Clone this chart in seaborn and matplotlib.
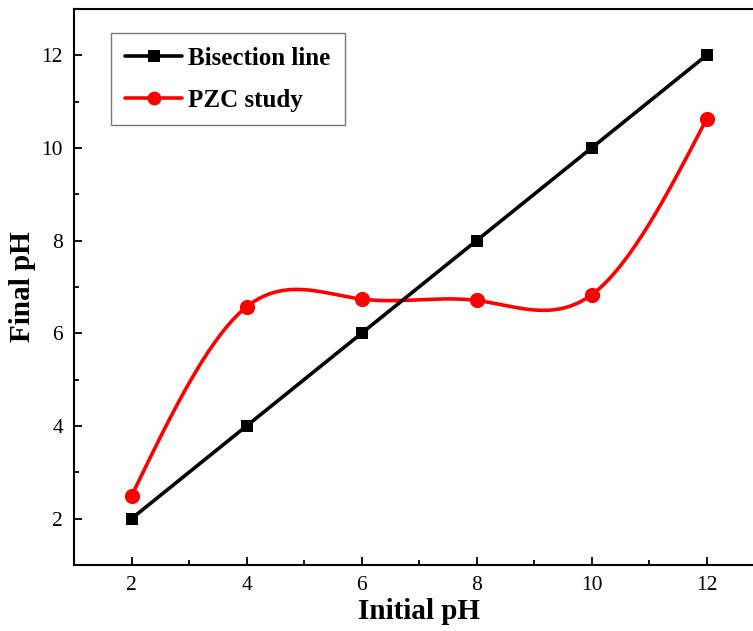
import numpy as np
import pandas as pd
import matplotlib
matplotlib.use("Agg")
import matplotlib.pyplot as plt
import seaborn as sns
from matplotlib.ticker import MultipleLocator
from matplotlib.lines import Line2D

# ---- data ----
initial_ph = [2, 4, 6, 8, 10, 12]
bisection = [2, 4, 6, 8, 10, 12]
pzc = [2.49, 6.57, 6.74, 6.71, 6.83, 10.62]
series_names = ["Bisection line", "PZC study"]
x_label = "Initial pH"
y_label = "Final pH"


def natural_spline(x, y, n=300):
    x = np.asarray(x, float); y = np.asarray(y, float)
    k = len(x)
    h = np.diff(x)
    A = np.zeros((k, k)); b = np.zeros(k)
    A[0, 0] = A[-1, -1] = 1
    for i in range(1, k - 1):
        A[i, i - 1] = h[i - 1]; A[i, i] = 2 * (h[i - 1] + h[i]); A[i, i + 1] = h[i]
        b[i] = 3 * ((y[i + 1] - y[i]) / h[i] - (y[i] - y[i - 1]) / h[i - 1])
    c = np.linalg.solve(A, b)
    xs = np.linspace(x[0], x[-1], n)
    idx = np.clip(np.searchsorted(x, xs) - 1, 0, k - 2)
    dx = xs - x[idx]
    bb = (y[idx + 1] - y[idx]) / h[idx] - h[idx] * (2 * c[idx] + c[idx + 1]) / 3
    d = (c[idx + 1] - c[idx]) / (3 * h[idx])
    ys = y[idx] + bb * dx + c[idx] * dx ** 2 + d * dx ** 3
    return xs, ys


sns.set_style("ticks")
plt.rcParams["font.family"] = ["Liberation Serif", "DejaVu Serif"]
plt.rcParams["text.color"] = "black"
plt.rcParams["axes.labelcolor"] = "black"
plt.rcParams["xtick.color"] = "black"
plt.rcParams["ytick.color"] = "black"

fig = plt.figure(figsize=(7.53, 6.31), dpi=100)
ax = fig.add_axes([74 / 753, 1 - 565 / 631, 690 / 753, (565 - 9) / 631])

df_b = pd.DataFrame({"x": initial_ph, "y": bisection})
sns.lineplot(data=df_b, x="x", y="y", ax=ax, color="black", lw=2.6,
             marker="s", markersize=8.5, markeredgewidth=0, zorder=3)

xs, ys = natural_spline(initial_ph, pzc)
df_s = pd.DataFrame({"x": xs, "y": ys})
sns.lineplot(data=df_s, x="x", y="y", ax=ax, color="#ff0000", lw=2.6, zorder=2,
             sort=False)
df_p = pd.DataFrame({"x": initial_ph, "y": pzc})
sns.scatterplot(data=df_p, x="x", y="y", ax=ax, color="#ff0000", s=120,
                linewidth=0, zorder=4)

ax.set_xlim(1, 13)
ax.set_ylim(1, 13)
ax.set_xticks([2, 4, 6, 8, 10, 12])
ax.set_yticks([2, 4, 6, 8, 10, 12])
ax.xaxis.set_minor_locator(MultipleLocator(1))
ax.yaxis.set_minor_locator(MultipleLocator(1))
ax.tick_params(which="both", direction="in", top=False, right=False,
               width=1.3, colors="black", labelsize=15.5)
ax.tick_params(which="major", length=6, pad=8)
ax.tick_params(which="minor", length=3.5)
for s in ax.spines.values():
    s.set_linewidth(1.5)
    s.set_color("black")

ax.set_xlabel(x_label, fontsize=21, fontweight="bold", labelpad=2)
ax.set_ylabel(y_label, fontsize=21, fontweight="bold", labelpad=4)

handles = [
    Line2D([], [], color="black", lw=2.6, marker="s", markersize=8.5, markeredgewidth=0),
    Line2D([], [], color="#ff0000", lw=2.6, marker="o", markersize=10, markeredgewidth=0),
]
leg = ax.legend(handles, series_names, loc="upper left",
                prop={"weight": "bold", "size": 18}, frameon=True, fancybox=False,
                edgecolor="#555555", handlelength=2.3, handletextpad=0.25,
                borderpad=0.55, labelspacing=0.75, borderaxespad=0)
leg.set_bbox_to_anchor((111 / 753, 1 - 33 / 631), transform=fig.transFigure)
leg.get_frame().set_linewidth(1.0)

fig.savefig("out.png", dpi=100)
